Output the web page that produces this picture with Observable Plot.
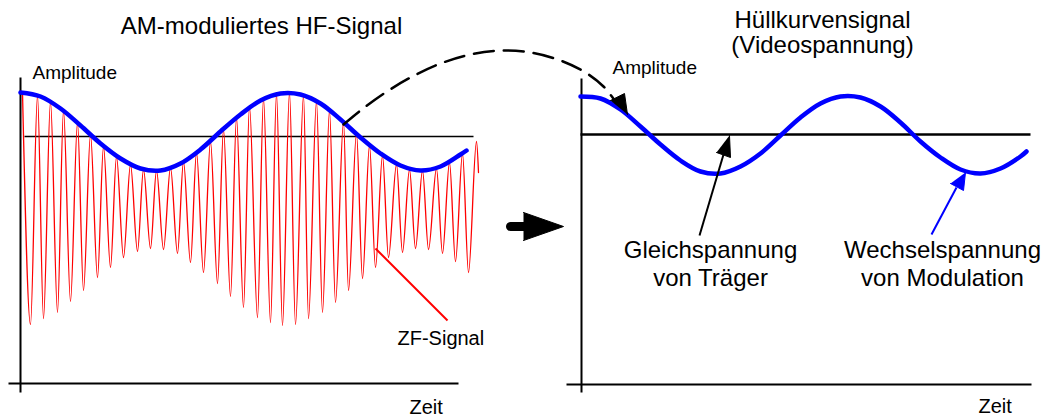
<!DOCTYPE html>
<html><head><meta charset="utf-8">
<script src="https://cdn.jsdelivr.net/npm/d3@7"></script>
<script src="https://cdn.jsdelivr.net/npm/@observablehq/plot@0.6"></script>
<style>html,body{margin:0;padding:0;background:#fff;} #chart svg{display:block;background:#fff}</style>
</head><body><div id="chart"></div>
<script>
// ---- Data (figure units: x = time position, y = level, downward) ----
// Left panel: envelope of AM signal (blue)
const envLeftT = [20,40,60,80,100,120,140,160,180,200,220,240,260,280,300,320,340,360,380,400,420,440,460,466];
const envLeftV = [92,96,108,125,143,158,168,170,163,149,131,114,100,93,94,103,119,137,153,165,170,166,154,150];
// Left panel: carrier (ZF) peaks and troughs (red)
const zfPeakT = [22,37,50,63,77,90,103,116,130,143,156,170,183,196,210,223,236,249,263,276,289,303,316,329,343,356,369,382,396,409,422,436,449,462,476];
const zfPeakV = [92,95,101,110,122,134,146,156,164,169,170,167,161,152,141,129,117,106,98,93,92,95,101,110,121,133,145,155,164,169,170,168,162,153,141];
const zfTroughT = [30,43,57,70,83,97,110,123,137,150,163,177,190,203,217,230,243,257,270,282,295,308,322,335,348,362,375,388,402,415,428,442,455,468];
const zfTroughV = [324,318,312,301,290,277,267,257,251,248,249,253,262,272,283,296,307,317,322,325,324,318,312,302,290,278,267,257,252,248,249,253,261,272];
const zfTail = [478, 172];
// Right panel: video (envelope) signal
const envRightT = [580,600,620,640,660,680,700,720,740,760,780,800,820,840,860,880,900,920,940,960,980,1000,1020,1026];
const envRightV = [96,98,109,126,144,160,171,173,166,153,135,117,103,96,97,106,122,141,157,169,173,168,156,151];
// Dashed connector arc
const arcT = [343,360,385,410,440,470,500,530,560,585,603,615];
const arcV = [124,110,92,77,63,54,50,52,60,72,86,101];
// Axes [x1,y1,x2,y2]
const axes = [[20,77,20,392],[8,383,458,383],[581,78,581,392],[566,384,1031,384]];
const refLeft = [24,136,473,136];
const refRight = [580,134,1030,134];
// Pointer lines
const zfPointer = [375,248,447,320];
const dcPointer = [699,235,723,154];
const acPointer = [931,234,956,187];
// Arrow heads (triangles)
const arcHead = [[610,100],[624,93],[627,114]];
const dcHead = [[716,152],[730,157],[729,135]];
const acHead = [[950,183],[963,190],[965,172]];
const bigHead = [[523,212],[563,226],[523,240]];
const bigTail = [510,226,524,226];
// Texts
const titles = [
  {t:"AM-moduliertes HF-Signal", x:261, y:33},
  {t:"Hüllkurvensignal", x:822, y:27},
  {t:"(Videospannung)", x:822, y:52},
  {t:"Gleichspannung", x:710, y:257},
  {t:"von Träger", x:710, y:285},
  {t:"Wechselspannung", x:942, y:257},
  {t:"von Modulation", x:942, y:285}
];
const labels = [
  {t:"Amplitude", x:32, y:78},
  {t:"Amplitude", x:612, y:73},
  {t:"ZF-Signal", x:397, y:344},
  {t:"Zeit", x:409, y:413},
  {t:"Zeit", x:978, y:412}
];

// ---- Build mark data ----
const envLeft = envLeftT.map((t,i)=>({x:t,y:envLeftV[i]}));
const envRight = envRightT.map((t,i)=>({x:t,y:envRightV[i]}));
const zf = [];
zfPeakT.forEach((t,i)=>{
  zf.push({x:t,y:zfPeakV[i]});
  if (i < zfTroughT.length) zf.push({x:zfTroughT[i],y:zfTroughV[i]});
});
zf.push({x:zfTail[0],y:zfTail[1]});
const arc = arcT.map((t,i)=>({x:t,y:arcV[i]}));
const seg = a => ({x1:a[0],y1:a[1],x2:a[2],y2:a[3]});
const tri = a => a.map(p=>({x:p[0],y:p[1]}));
const font = "Liberation Sans, Arial, Helvetica, sans-serif";

const chart = Plot.plot({
  width: 1044, height: 417,
  marginTop: 0, marginRight: 0, marginBottom: 0, marginLeft: 0,
  x: {domain: [0,1044], range: [0,1044], axis: null},
  y: {domain: [0,417], range: [0,417], axis: null},
  style: {background: "#fff", fontFamily: font},
  marks: [
    Plot.link(axes.map(seg), {x1:"x1",y1:"y1",x2:"x2",y2:"y2", stroke:"#000", strokeWidth:2}),
    Plot.link([seg(refLeft)], {x1:"x1",y1:"y1",x2:"x2",y2:"y2", stroke:"#000", strokeWidth:1.4}),
    Plot.link([seg(refRight)], {x1:"x1",y1:"y1",x2:"x2",y2:"y2", stroke:"#000", strokeWidth:2.5}),
    Plot.line(zf, {x:"x", y:"y", curve:"monotone-x", stroke:"#ff0000", strokeWidth:1.3}),
    Plot.line(envLeft, {x:"x", y:"y", curve:"catmull-rom", stroke:"#0000ff", strokeWidth:4.5, strokeLinecap:"round"}),
    Plot.line(envRight, {x:"x", y:"y", curve:"catmull-rom", stroke:"#0000ff", strokeWidth:4.5, strokeLinecap:"round"}),
    Plot.line(arc, {x:"x", y:"y", curve:"catmull-rom", stroke:"#000", strokeWidth:2.5, strokeDasharray:"20,10"}),
    Plot.line(tri(arcHead), {x:"x", y:"y", fill:"#000", stroke:"#000", strokeWidth:1}),
    Plot.link([seg(zfPointer)], {x1:"x1",y1:"y1",x2:"x2",y2:"y2", stroke:"#ff0000", strokeWidth:2}),
    Plot.link([seg(dcPointer)], {x1:"x1",y1:"y1",x2:"x2",y2:"y2", stroke:"#000", strokeWidth:2}),
    Plot.line(tri(dcHead), {x:"x", y:"y", fill:"#000", stroke:"#000", strokeWidth:1}),
    Plot.link([seg(acPointer)], {x1:"x1",y1:"y1",x2:"x2",y2:"y2", stroke:"#0000ff", strokeWidth:2}),
    Plot.line(tri(acHead), {x:"x", y:"y", fill:"#0000ff", stroke:"#0000ff", strokeWidth:1}),
    Plot.link([seg(bigTail)], {x1:"x1",y1:"y1",x2:"x2",y2:"y2", stroke:"#000", strokeWidth:9, strokeLinecap:"round"}),
    Plot.line(tri(bigHead), {x:"x", y:"y", fill:"#000", stroke:"#000", strokeWidth:1}),
    Plot.text(titles, {x:"x", y:"y", text:"t", textAnchor:"middle", lineAnchor:"bottom", fontSize:24, fill:"#000", fontFamily:font}),
    Plot.text(labels.slice(0,2), {x:"x", y:"y", text:"t", textAnchor:"start", lineAnchor:"bottom", fontSize:19, fill:"#000", fontFamily:font}),
    Plot.text(labels.slice(2), {x:"x", y:"y", text:"t", textAnchor:"start", lineAnchor:"bottom", fontSize:20, fill:"#000", fontFamily:font})
  ]
});
document.getElementById("chart").appendChild(chart);
</script></body></html>
